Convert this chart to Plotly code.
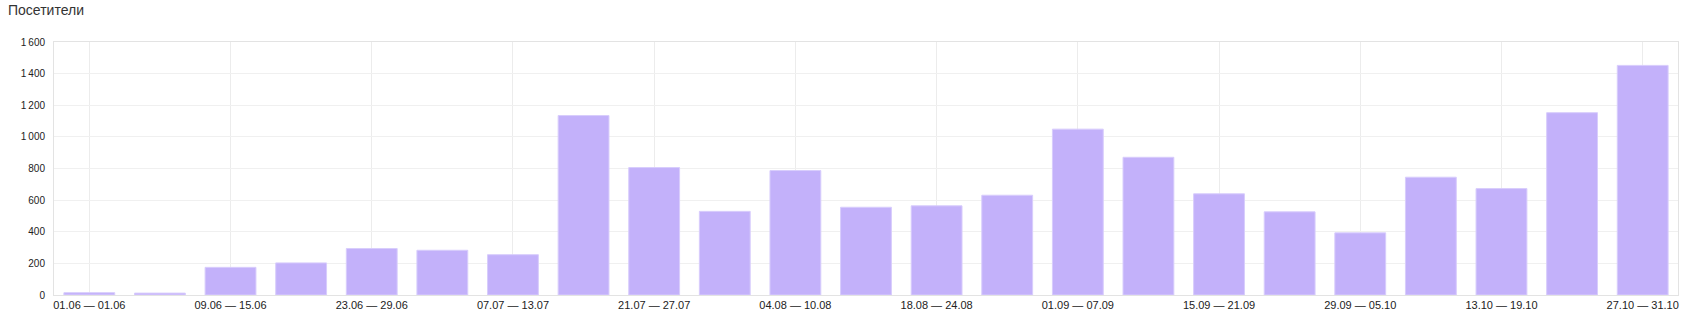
import plotly.graph_objects as go

categories = [
    "01.06 — 01.06", "02.06 — 08.06", "09.06 — 15.06", "16.06 — 22.06",
    "23.06 — 29.06", "30.06 — 06.07", "07.07 — 13.07", "14.07 — 20.07",
    "21.07 — 27.07", "28.07 — 03.08", "04.08 — 10.08", "11.08 — 17.08",
    "18.08 — 24.08", "25.08 — 31.08", "01.09 — 07.09", "08.09 — 14.09",
    "15.09 — 21.09", "22.09 — 28.09", "29.09 — 05.10", "06.10 — 12.10",
    "13.10 — 19.10", "20.10 — 26.10", "27.10 — 31.10",
]
visitors = [15, 12, 175, 203, 294, 283, 255, 1135, 806, 529, 787, 555,
            564, 631, 1049, 871, 640, 526, 393, 745, 673, 1153, 1452]

x_tick_labels = categories[::2]
y_tick_values = [0, 200, 400, 600, 800, 1000, 1200, 1400, 1600]
y_tick_labels = ["0", "200", "400", "600", "800", "1\u2009000", "1\u2009200", "1\u2009400", "1\u2009600"]

W, H = 1702, 323
ML, MR, MT, MB = 54, 24, 42, 28
plot_w = W - ML - MR
plot_h = H - MT - MB

fig = go.Figure(
    go.Bar(
        x=categories,
        y=visitors,
        marker=dict(color="#c3b1fa", line=dict(color="#d8cdfc", width=1)),
        hovertemplate="%{x}: %{y}<extra></extra>",
    )
)

fig.update_layout(
    width=W,
    height=H,
    margin=dict(l=ML, r=MR, t=MT, b=MB),
    paper_bgcolor="white",
    plot_bgcolor="white",
    bargap=0.28,
    showlegend=False,
    font=dict(family="Liberation Sans, Arial, sans-serif", color="#222222"),
    annotations=[
        dict(
            text="Посетители",
            font=dict(size=14, color="#333333"),
            xref="paper", yref="paper",
            x=(6 - ML) / plot_w, xanchor="left",
            y=(H - MB - 10) / plot_h - 0 if False else (plot_h + MT - 10) / plot_h, yanchor="middle",
            showarrow=False,
        )
    ],
)

fig.update_xaxes(
    type="category",
    tickmode="array",
    tickvals=x_tick_labels,
    ticktext=x_tick_labels,
    tickangle=0,
    tickfont=dict(size=11, color="#222222"),
    showgrid=True,
    gridcolor="#ececec",
    gridwidth=1,
    showline=True,
    linecolor="#e3e3e3",
    linewidth=1,
    mirror=True,
    ticks="",
    zeroline=False,
)

fig.update_yaxes(
    range=[0, 1600],
    tickmode="array",
    tickvals=y_tick_values,
    ticktext=y_tick_labels,
    tickfont=dict(size=10, color="#222222"),
    showgrid=True,
    gridcolor="#f0f0f0",
    gridwidth=1,
    showline=True,
    linecolor="#e3e3e3",
    linewidth=1,
    mirror=True,
    ticks="",
    ticklabelstandoff=6,
    zeroline=False,
)

fig.write_html("out.html")
